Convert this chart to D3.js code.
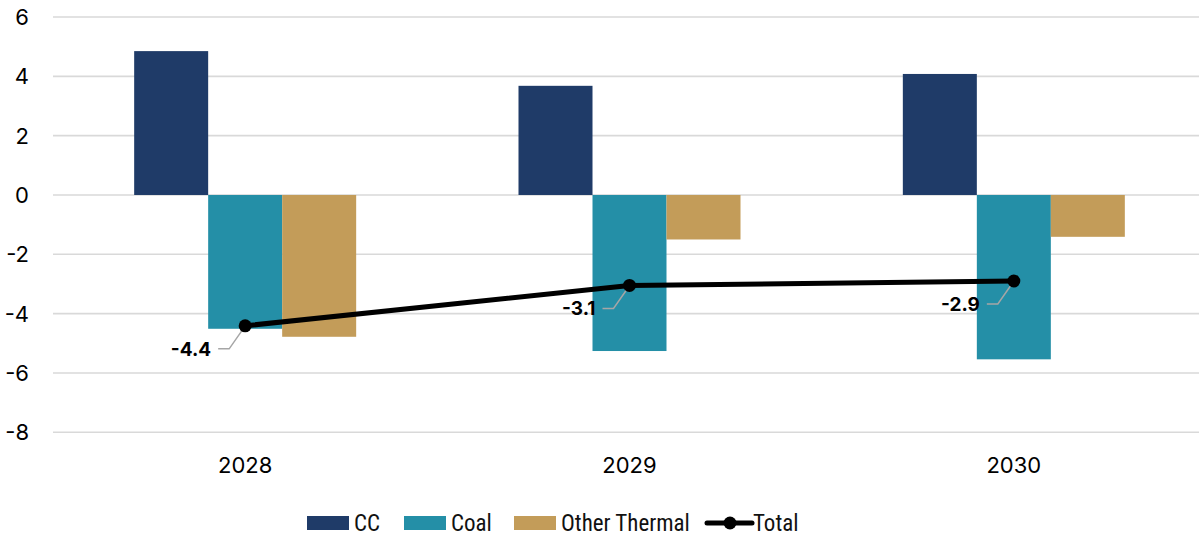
<!DOCTYPE html>
<html>
<head>
<meta charset="utf-8">
<script src="https://cdn.jsdelivr.net/npm/d3@7"></script>
<style>
  html, body { margin: 0; padding: 0; background: #ffffff; }
  svg { display: block; }
</style>
</head>
<body>
<svg id="chart" width="1199" height="537"></svg>
<script>
// Annual change by technology
const years = ["2028", "2029", "2030"];
const seriesNames = ["CC", "Coal", "Other Thermal"];
const ccValues = [4.85, 3.68, 4.08];
const coalValues = [-4.51, -5.26, -5.54];
const otherThermalValues = [-4.78, -1.50, -1.41];
const totalValues = [-4.41, -3.05, -2.90];
const totalLabels = ["-4.4", "-3.1", "-2.9"];
const yTicks = [6, 4, 2, 0, -2, -4, -6, -8];

const colors = { "CC": "#1f3b68", "Coal": "#248fa7", "Other Thermal": "#c39c59" };
const seriesValues = { "CC": ccValues, "Coal": coalValues, "Other Thermal": otherThermalValues };

const svg = d3.select("#chart");
const font = "Inter, 'Liberation Sans', Arial, sans-serif";

const y = d3.scaleLinear().domain([-8, 6]).range([432.3, 17]);
const x = d3.scaleBand().domain(years).range([53, 1206]).padding(0);
const barW = 74;
const xs = d3.scaleBand().domain(seriesNames).range([0, barW * seriesNames.length]).padding(0);

// gridlines
svg.append("g").selectAll("line").data(yTicks).join("line")
  .attr("x1", 53).attr("x2", 1199)
  .attr("y1", d => y(d)).attr("y2", d => y(d))
  .attr("stroke", "#d9d9d9").attr("stroke-width", 1.6);

// y tick labels
svg.append("g").selectAll("text").data(yTicks).join("text")
  .attr("x", 29).attr("y", d => y(d))
  .attr("dy", "0.36em")
  .attr("text-anchor", "end")
  .attr("font-family", font).attr("font-size", 22)
  .attr("fill", "#000")
  .text(d => d);

// bars
const groups = svg.append("g").selectAll("g").data(years).join("g")
  .attr("transform", d => `translate(${x(d) + x.bandwidth() / 2 - barW * 1.5},0)`);

groups.selectAll("rect")
  .data((d, i) => seriesNames.map(s => ({ s, v: seriesValues[s][i] })))
  .join("rect")
  .attr("x", d => xs(d.s))
  .attr("width", xs.bandwidth())
  .attr("y", d => y(Math.max(0, d.v)))
  .attr("height", d => Math.abs(y(d.v) - y(0)))
  .attr("fill", d => colors[d.s]);

// x labels
svg.append("g").selectAll("text").data(years).join("text")
  .attr("x", d => x(d) + x.bandwidth() / 2)
  .attr("y", 465)
  .attr("dy", "0.36em")
  .attr("text-anchor", "middle")
  .attr("font-family", font).attr("font-size", 22)
  .attr("fill", "#000")
  .text(d => d);

// total line
const pts = years.map((yr, i) => [x(yr) + x.bandwidth() / 2, y(totalValues[i])]);
svg.append("path")
  .attr("d", d3.line()(pts))
  .attr("fill", "none").attr("stroke", "#000").attr("stroke-width", 5)
  .attr("stroke-linejoin", "round");

// leader lines and value labels
const lbl = svg.append("g");
pts.forEach((p, i) => {
  const ty = p[1] + 23;
  lbl.append("polyline")
    .attr("points", [[p[0] - 27, ty], [p[0] - 16, ty], [p[0] - 2, p[1] + 3]].map(q => q.join(",")).join(" "))
    .attr("fill", "none").attr("stroke", "#a6a6a6").attr("stroke-width", 1.5);
  lbl.append("text")
    .attr("x", p[0] - 34).attr("y", ty)
    .attr("dy", "0.36em")
    .attr("text-anchor", "end")
    .attr("font-family", font).attr("font-size", 19).attr("font-weight", "bold")
    .attr("fill", "#000")
    .text(totalLabels[i]);
});

svg.append("g").selectAll("circle").data(pts).join("circle")
  .attr("cx", d => d[0]).attr("cy", d => d[1]).attr("r", 6.5)
  .attr("fill", "#000");

// legend
const legFont = "'Liberation Sans Narrow', 'Arial Narrow', 'Roboto Condensed', sans-serif";
const leg = svg.append("g");
const legendItems = [
  { name: "CC", x: 307, type: "rect" },
  { name: "Coal", x: 404, type: "rect" },
  { name: "Other Thermal", x: 514, type: "rect" },
  { name: "Total", x: 707, type: "line" }
];
legendItems.forEach(it => {
  if (it.type === "rect") {
    leg.append("rect").attr("x", it.x).attr("y", 516).attr("width", 42).attr("height", 14)
      .attr("fill", colors[it.name]);
    leg.append("text").attr("x", it.x + 47).attr("y", 523).attr("dy", "0.36em")
      .attr("font-family", legFont).attr("font-size", 23).attr("fill", "#111")
      .text(it.name);
  } else {
    leg.append("line").attr("x1", it.x).attr("x2", it.x + 45).attr("y1", 523).attr("y2", 523)
      .attr("stroke", "#000").attr("stroke-width", 5).attr("stroke-linecap", "round");
    leg.append("circle").attr("cx", it.x + 23).attr("cy", 523).attr("r", 6.5).attr("fill", "#000");
    leg.append("text").attr("x", it.x + 46).attr("y", 523).attr("dy", "0.36em")
      .attr("font-family", legFont).attr("font-size", 23).attr("fill", "#111")
      .text(it.name);
  }
});
</script>
</body>
</html>
